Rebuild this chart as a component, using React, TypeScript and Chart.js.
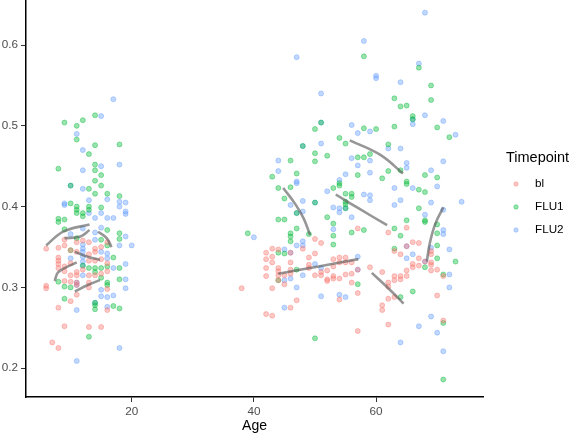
import { useEffect, useRef } from "react";
import { Chart, registerables } from "chart.js";

Chart.register(...registerables);

const FONT = '"Liberation Sans", Arial, Helvetica, sans-serif';

// Timepoint groups and their hue (r,g,b)
const timepoints = ["bl", "FLU1", "FLU2"];
const timepointRgb = ["248,118,109", "0,186,56", "97,156,255"];

const xTicks = [20, 40, 60];
const yTicks = [0.2, 0.3, 0.4, 0.5, 0.6];

// [Age, value] per sample
const blPoints: [number, number][] = [
  [6, 0.348], [8, 0.349], [9, 0.359], [9, 0.352], [11, 0.356], [13, 0.356], [14, 0.348], [14, 0.344], [15, 0.35],
  [8, 0.337], [8, 0.333], [8, 0.329], [8, 0.324], [9, 0.326], [13, 0.333], [15, 0.317], [16, 0.32], [9, 0.32],
  [10, 0.315], [11, 0.319], [11, 0.315], [13, 0.315], [14, 0.315], [6, 0.302], [6, 0.299], [9, 0.308], [10, 0.307],
  [13, 0.306], [13, 0.3], [16, 0.298], [11, 0.306], [11, 0.303], [11, 0.291], [10, 0.283], [16, 0.272], [8, 0.275],
  [9, 0.252], [13, 0.251], [15, 0.251], [7, 0.232], [8, 0.225], [10, 0.346], [10, 0.33], [12, 0.322], [14, 0.333],
  [15, 0.335], [16, 0.33], [11, 0.344], [13, 0.341], [12, 0.358], [16, 0.356],
  [57, 0.373], [50, 0.36], [51, 0.355], [48, 0.348], [42, 0.343], [42, 0.335], [42, 0.324], [42, 0.314], [43, 0.348],
  [43, 0.338], [43, 0.331], [44, 0.347], [44, 0.324], [44, 0.32], [44, 0.315], [44, 0.309], [46, 0.331], [49, 0.337],
  [50, 0.342], [49, 0.328], [49, 0.324], [45, 0.315], [45, 0.304], [46, 0.317], [50, 0.315], [51, 0.319], [51, 0.315],
  [52, 0.321], [52, 0.31], [52, 0.308], [53, 0.335], [53, 0.326], [53, 0.314], [53, 0.311], [54, 0.337], [54, 0.331],
  [54, 0.311], [55, 0.337], [55, 0.331], [55, 0.316], [56, 0.331], [56, 0.317], [56, 0.306], [57, 0.293], [38, 0.299],
  [43, 0.299], [47, 0.284], [54, 0.285], [46, 0.275], [42, 0.267], [43, 0.265], [57, 0.246], [46, 0.322], [57, 0.322],
  [62, 0.368], [65, 0.374], [66, 0.356], [67, 0.355], [63, 0.345], [64, 0.341], [69, 0.345], [69, 0.341], [67, 0.336],
  [69, 0.331], [69, 0.328], [66, 0.329], [66, 0.325], [67, 0.327], [59, 0.325], [69, 0.321], [70, 0.322], [65, 0.321],
  [61, 0.319], [71, 0.314], [63, 0.314], [64, 0.314], [65, 0.314], [63, 0.309], [64, 0.31], [62, 0.306], [62, 0.301],
  [70, 0.29], [62, 0.286], [63, 0.288], [61, 0.278], [61, 0.272], [62, 0.254], [71, 0.259], [46, 0.343], [68, 0.332],
  [65, 0.351],
];

const flu1Points: [number, number][] = [
  [9, 0.504], [12, 0.507], [14, 0.513], [11, 0.5], [11, 0.483], [14, 0.476], [18, 0.477], [13, 0.465], [8, 0.447],
  [14, 0.452], [14, 0.445], [14, 0.432], [15, 0.439], [15, 0.426], [10, 0.426], [13, 0.422], [14, 0.416], [16, 0.416],
  [18, 0.413], [10, 0.404], [11, 0.4], [11, 0.396], [13, 0.4], [13, 0.396], [15, 0.399], [11, 0.392], [12, 0.392],
  [12, 0.388], [8, 0.385], [8, 0.381], [9, 0.384], [9, 0.372], [11, 0.361], [15, 0.359], [16, 0.371], [16, 0.352],
  [18, 0.367], [18, 0.36], [10, 0.346], [17, 0.337], [12, 0.327], [13, 0.324], [14, 0.324], [14, 0.319], [15, 0.324],
  [16, 0.326], [18, 0.324], [15, 0.312], [18, 0.31], [8, 0.307], [9, 0.301], [10, 0.3], [16, 0.306], [16, 0.303],
  [9, 0.286], [14, 0.281], [14, 0.278], [14, 0.273], [17, 0.277], [18, 0.274], [13, 0.239],
  [50, 0.496], [54, 0.485], [55, 0.478], [46, 0.457], [50, 0.466], [50, 0.456], [52, 0.463], [57, 0.461], [47, 0.441],
  [43, 0.437], [57, 0.439], [44, 0.423], [46, 0.424], [54, 0.429], [54, 0.426], [53, 0.423], [45, 0.41], [55, 0.416],
  [56, 0.416], [56, 0.412], [55, 0.406], [55, 0.403], [51, 0.504], [48, 0.475], [50, 0.405],
  [58, 0.586], [67, 0.572], [69, 0.55], [63, 0.534], [69, 0.532], [64, 0.524], [65, 0.525], [66, 0.512], [66, 0.508],
  [58, 0.497], [60, 0.496], [63, 0.499], [70, 0.498], [72, 0.486], [62, 0.477], [58, 0.461], [59, 0.465], [62, 0.444],
  [61, 0.435], [64, 0.445], [68, 0.439], [70, 0.436], [65, 0.431], [65, 0.428], [67, 0.421], [68, 0.418], [67, 0.398],
  [44, 0.384], [45, 0.384], [52, 0.387], [53, 0.379], [53, 0.364], [53, 0.353], [47, 0.373], [46, 0.367], [46, 0.363],
  [46, 0.357], [39, 0.367], [56, 0.368], [49, 0.366], [44, 0.343], [45, 0.342], [47, 0.322], [44, 0.309], [57, 0.304],
  [50, 0.237], [55, 0.398], [47, 0.392],
  [68, 0.383], [68, 0.381], [65, 0.383], [70, 0.378], [58, 0.371], [63, 0.373], [64, 0.364], [70, 0.367], [63, 0.348],
  [70, 0.352], [70, 0.336], [73, 0.332], [68, 0.325], [71, 0.316], [66, 0.295], [64, 0.288], [71, 0.256], [71, 0.186],
];

const flu2Points: [number, number][] = [
  [17, 0.533], [15, 0.512], [11, 0.49], [12, 0.47], [12, 0.445], [15, 0.45], [18, 0.452], [10, 0.426], [12, 0.422],
  [16, 0.409], [13, 0.408], [9, 0.404], [9, 0.402], [18, 0.406], [19, 0.405], [19, 0.394], [19, 0.391], [18, 0.4],
  [13, 0.392], [14, 0.386], [15, 0.392], [16, 0.386], [17, 0.386], [10, 0.366], [12, 0.373], [14, 0.368], [14, 0.359],
  [15, 0.374], [18, 0.352], [19, 0.363], [20, 0.352], [12, 0.353], [12, 0.348], [12, 0.344], [15, 0.344], [16, 0.342],
  [16, 0.336], [10, 0.336], [12, 0.338], [12, 0.332], [17, 0.324], [19, 0.329], [12, 0.315], [19, 0.31], [19, 0.299],
  [15, 0.297], [15, 0.289], [16, 0.288], [17, 0.29], [16, 0.276], [11, 0.272], [18, 0.225], [11, 0.209], [11, 0.306],
  [11, 0.303], [12, 0.327], [14, 0.281],
  [47, 0.585], [51, 0.54], [51, 0.504], [56, 0.501], [57, 0.491], [48, 0.475], [51, 0.478], [44, 0.457], [56, 0.46],
  [57, 0.451], [44, 0.444], [55, 0.44], [47, 0.431], [47, 0.429], [54, 0.433], [52, 0.419], [48, 0.407], [50, 0.405],
  [46, 0.402],
  [68, 0.64], [58, 0.605], [67, 0.577], [60, 0.562], [60, 0.559], [64, 0.554], [66, 0.502], [68, 0.513], [71, 0.506],
  [59, 0.493], [73, 0.489], [62, 0.472], [64, 0.472], [59, 0.457], [65, 0.454], [65, 0.448], [71, 0.456], [59, 0.442],
  [69, 0.445], [63, 0.423], [66, 0.423], [70, 0.425], [58, 0.415], [59, 0.414], [59, 0.408], [64, 0.408], [63, 0.402],
  [69, 0.405], [74, 0.406], [66, 0.508],
  [53, 0.399], [54, 0.398], [54, 0.393], [56, 0.387], [48, 0.394], [53, 0.372], [40, 0.362], [48, 0.357], [48, 0.352],
  [47, 0.352], [45, 0.347], [46, 0.343], [50, 0.329], [51, 0.324], [48, 0.315], [45, 0.309], [46, 0.311], [57, 0.338],
  [57, 0.322], [47, 0.3], [51, 0.289], [54, 0.291], [55, 0.288], [45, 0.275], [55, 0.398], [47, 0.392],
  [68, 0.39], [71, 0.396], [71, 0.371], [71, 0.366], [72, 0.347], [65, 0.336], [66, 0.341], [72, 0.316], [72, 0.3],
  [69, 0.264], [67, 0.252], [70, 0.244], [64, 0.232], [71, 0.221], [65, 0.351], [69, 0.349], [68, 0.332],
];

// Per-subject smoothed trajectories
const subjectTrends: [number, number][][] = [
  [[6.0, 0.352], [8.8, 0.369], [13.1, 0.378]],
  [[7.4, 0.308], [8.0, 0.319], [11.0, 0.331]],
  [[10.7, 0.295], [12.8, 0.303], [14.8, 0.309]],
  [[10.7, 0.344], [12.8, 0.338], [14.8, 0.334]],
  [[14.5, 0.369], [15.9, 0.361], [16.7, 0.35]],
  [[9.0, 0.361], [11.6, 0.363], [13.1, 0.371]],
  [[55.7, 0.482], [60.7, 0.464], [64.4, 0.441]],
  [[44.8, 0.423], [46.7, 0.404], [48.1, 0.386], [49.2, 0.365]],
  [[53.4, 0.415], [57.1, 0.398], [61.8, 0.377]],
  [[44.0, 0.317], [50.6, 0.326], [57.1, 0.335]],
  [[59.3, 0.318], [62.0, 0.299], [64.5, 0.28]],
  [[68.3, 0.332], [68.8, 0.355], [69.7, 0.379], [71.0, 0.399]],
];

const legendPlugin = {
  id: "timepointLegend",
  afterDraw(chart: any) {
    const ctx = chart.ctx as CanvasRenderingContext2D;
    ctx.save();
    ctx.textBaseline = "middle";
    ctx.textAlign = "left";
    ctx.fillStyle = "#000";
    ctx.font = `14.5px ${FONT}`;
    ctx.fillText("Timepoint", 506, 158);
    ctx.font = `11.7px ${FONT}`;
    timepoints.forEach((name, i) => {
      const y = 184 + i * 23;
      ctx.beginPath();
      ctx.arc(516, y, 2.2, 0, Math.PI * 2);
      ctx.fillStyle = `rgba(${timepointRgb[i]},0.4)`;
      ctx.fill();
      ctx.lineWidth = 1;
      ctx.strokeStyle = `rgba(${timepointRgb[i]},0.4)`;
      ctx.stroke();
      ctx.fillStyle = "#000";
      ctx.fillText(name, 535, y);
    });
    ctx.restore();
  },
};

export default function App() {
  const canvasRef = useRef<HTMLCanvasElement>(null);

  useEffect(() => {
    const canvas = canvasRef.current;
    if (!canvas) return;

    const datasets: any[] = subjectTrends.map((line, i) => ({
      type: "line",
      label: `subject ${i + 1}`,
      data: line.map(([x, y]) => ({ x, y })),
      borderColor: "rgba(85,85,85,0.62)",
      borderWidth: 2.6,
      pointRadius: 0,
      tension: 0.4,
      fill: false,
      order: 0,
    }));

    [blPoints, flu1Points, flu2Points].forEach((pts, i) => {
      datasets.push({
        type: "scatter",
        label: timepoints[i],
        data: pts.map(([x, y]) => ({ x, y })),
        backgroundColor: `rgba(${timepointRgb[i]},0.4)`,
        borderColor: `rgba(${timepointRgb[i]},0.4)`,
        borderWidth: 1,
        pointRadius: 2.5,
        order: 1,
      });
    });

    const tickFont = { family: FONT, size: 11.7 };

    const chart = new Chart(canvas, {
      type: "scatter",
      data: { datasets },
      plugins: [legendPlugin],
      options: {
        responsive: false,
        maintainAspectRatio: false,
        animation: false,
        events: [],
        layout: { autoPadding: false, padding: { top: 0, right: 101, bottom: 0, left: 0 } },
        plugins: { legend: { display: false }, tooltip: { enabled: false } },
        scales: {
          x: {
            type: "linear",
            min: 2.7,
            max: 77.5,
            afterBuildTicks: (s: any) => {
              s.ticks = xTicks.map((v) => ({ value: v }));
            },
            afterFit: (s: any) => {
              s.height = 38;
              s.paddingLeft = 0;
              s.paddingRight = 0;
            },
            ticks: { font: tickFont, color: "#4d4d4d", padding: 3, callback: (v: any) => String(v) },
            grid: { drawOnChartArea: false, drawTicks: true, tickLength: 5, tickColor: "#333", tickWidth: 1 },
            border: { display: true, color: "#000", width: 1.5 },
            title: { display: true, text: "Age", color: "#000", font: { family: FONT, size: 14 }, padding: 0 },
          },
          y: {
            type: "linear",
            min: 0.1644,
            max: 0.6557,
            afterBuildTicks: (s: any) => {
              s.ticks = yTicks.map((v) => ({ value: v }));
            },
            afterFit: (s: any) => {
              s.width = 26;
              s.paddingTop = 0;
              s.paddingBottom = 0;
            },
            ticks: { font: tickFont, color: "#4d4d4d", padding: 3, callback: (v: any) => Number(v).toFixed(1) },
            grid: { drawOnChartArea: false, drawTicks: true, tickLength: 5, tickColor: "#333", tickWidth: 1 },
            border: { display: true, color: "#000", width: 1.5 },
          },
        },
      } as any,
    });

    return () => chart.destroy();
  }, []);

  return (
    <div style={{ position: "fixed", left: 0, top: 0, width: 584, height: 435, background: "#fff" }}>
      <canvas ref={canvasRef} width={584} height={435} />
    </div>
  );
}
